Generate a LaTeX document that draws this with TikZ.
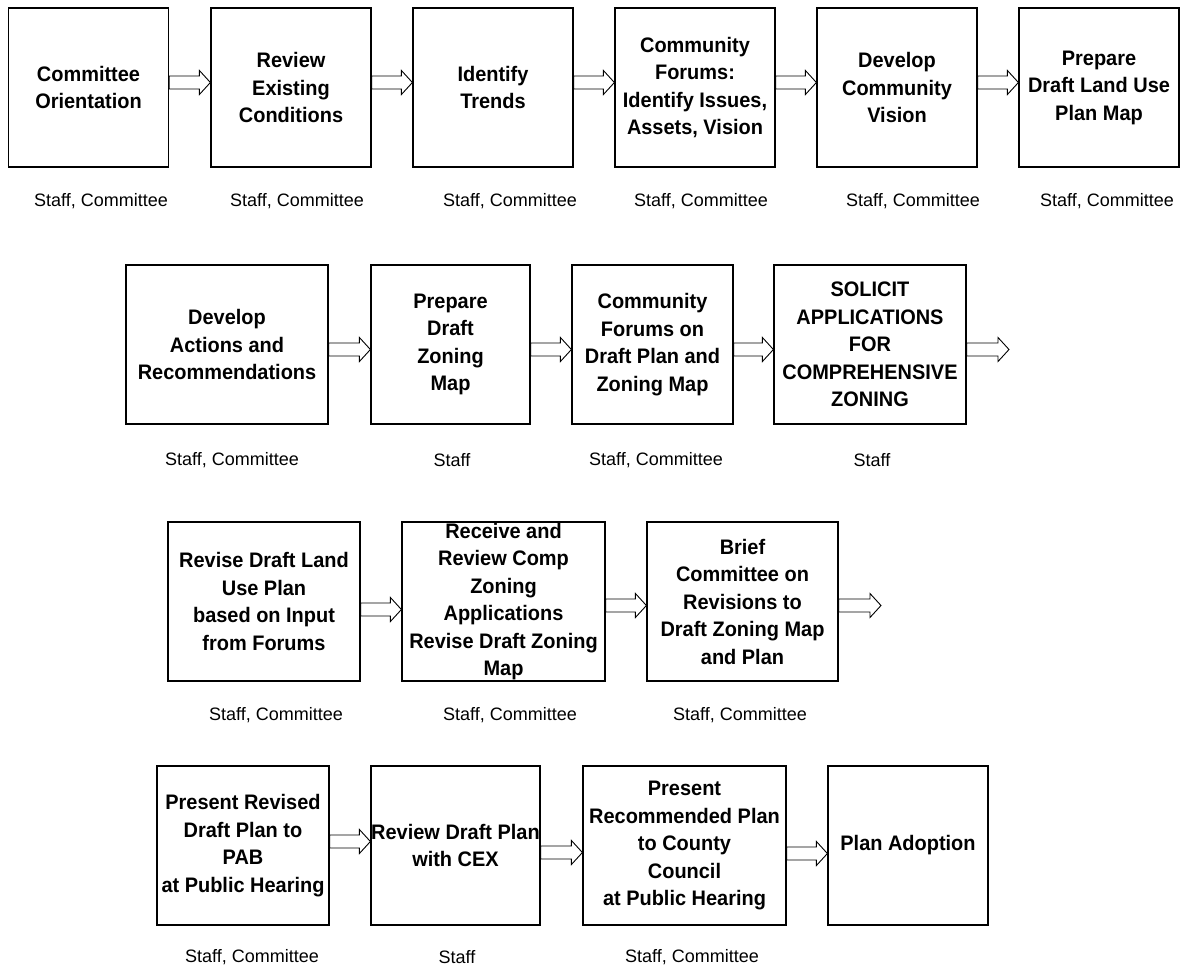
\documentclass[tikz,border=0pt]{standalone}
\usepackage{fontspec}
\setmainfont{Liberation Sans}
\newfontfamily\stagefamily[FakeStretch=0.95]{Liberation Sans}
\usepackage{tikz}
\usetikzlibrary{calc}

\newcommand{\stagefont}{\stagefamily\fontsize{21}{27.5}\bfseries\selectfont}
\newcommand{\whofont}{\fontsize{18}{22}\selectfont}

\tikzset{
  stage/.style={draw, line width=1.2pt, inner sep=0pt, align=center, font=\stagefont,
    minimum height=159pt, minimum width=#1},
  stage/.default=160pt,
  who/.style={font=\whofont, inner sep=0pt},
  hollow/.style={draw, line width=0.9pt, to path={let \p1=(\tikztostart), \p2=(\tikztotarget) in
    (\x1,\y1+6.5pt) -- (\x2-11pt,\y1+6.5pt) -- (\x2-11pt,\y1+12pt) -- (\x2,\y1)
    -- (\x2-11pt,\y1-12pt) -- (\x2-11pt,\y1-6.5pt) -- (\x1,\y1-6.5pt) -- cycle}}
}

\begin{document}
\begin{tikzpicture}[x=1pt,y=-1pt]
\useasboundingbox (0,0) rectangle (1185,970);
% row 1
\node[stage] (s1) at (88.5,87.5) {Committee\\Orientation};
\node[stage] (s2) at (291,87.5) {Review\\Existing\\Conditions};
\node[stage] (s3) at (493,87.5) {Identify\\Trends};
\node[stage] (s4) at (695,87.5) {Community\\Forums:\\Identify Issues,\\Assets, Vision};
\node[stage] (s5) at (897,87.5) {Develop\\Community\\Vision};
\node[stage] (s6) at (1099,87.5) {Prepare\\Draft Land Use\\Plan Map};
\node[who] (w1) at (101,201) {Staff, Committee};
\node[who] (w2) at (297,201) {Staff, Committee};
\node[who] (w3) at (510,201) {Staff, Committee};
\node[who] (w4) at (701,201) {Staff, Committee};
\node[who] (w5) at (913,201) {Staff, Committee};
\node[who] (w6) at (1107,201) {Staff, Committee};
\draw[hollow] ([yshift=5pt]s1.east) to (s2.west);
\draw[hollow] ([yshift=5pt]s2.east) to (s3.west);
\draw[hollow] ([yshift=5pt]s3.east) to (s4.west);
\draw[hollow] ([yshift=5pt]s4.east) to (s5.west);
\draw[hollow] ([yshift=5pt]s5.east) to (s6.west);
% row 2
\node[stage=202pt] (s7) at (227,344.5) {Develop\\Actions and\\Recommendations};
\node[stage=159pt] (s8) at (450.5,344.5) {Prepare\\Draft\\Zoning\\Map};
\node[stage=161pt] (s9) at (652.5,344.5) {Community\\Forums on\\Draft Plan and\\Zoning Map};
\node[stage=192pt] (s10) at (870,344.5) {SOLICIT\\APPLICATIONS\\FOR\\COMPREHENSIVE\\ZONING};
\coordinate (e10) at (1009,344.5);
\node[who] (w7) at (232,460) {Staff, Committee};
\node[who] (w8) at (452,460) {Staff};
\node[who] (w9) at (656,460) {Staff, Committee};
\node[who] (w10) at (872,460) {Staff};
\draw[hollow] ([yshift=-5pt]s7.east) to (s8.west);
\draw[hollow] ([yshift=-5pt]s8.east) to (s9.west);
\draw[hollow] ([yshift=-5pt]s9.east) to (s10.west);
\draw[hollow] ([yshift=-5pt]s10.east) to (e10);
% row 3
\node[stage=192pt] (s11) at (264,601.5) {Revise Draft Land\\Use Plan\\based on Input\\from Forums};
\node[stage=203pt] (s12) at (503.5,601.5) {Receive and\\Review Comp\\Zoning\\Applications\\Revise Draft Zoning\\Map};
\node[stage=191pt] (s13) at (742.5,601.5) {Brief\\Committee on\\Revisions to\\Draft Zoning Map\\and Plan};
\coordinate (e13) at (881,601.5);
\node[who] (w11) at (276,715) {Staff, Committee};
\node[who] (w12) at (510,715) {Staff, Committee};
\node[who] (w13) at (740,715) {Staff, Committee};
\draw[hollow] ([yshift=-8pt]s11.east) to (s12.west);
\draw[hollow] ([yshift=-4pt]s12.east) to (s13.west);
\draw[hollow] ([yshift=-4pt]s13.east) to (e13);
% row 4
\node[stage=172pt] (s14) at (243,845.5) {Present Revised\\Draft Plan to\\PAB\\at Public Hearing};
\node[stage=169pt] (s15) at (455.5,845.5) {\makebox[167pt]{Review Draft Plan}\\with CEX};
\node[stage=203pt] (s16) at (684.5,845.5) {Present\\Recommended Plan\\to County\\Council\\at Public Hearing};
\node[stage=160pt] (s17) at (908,845.5) {Plan Adoption};
\node[who] (w14) at (252,957) {Staff, Committee};
\node[who] (w15) at (457,957) {Staff};
\node[who] (w16) at (692,957) {Staff, Committee};
\draw[hollow] ([yshift=4pt]s14.east) to (s15.west);
\draw[hollow] ([yshift=-7pt]s15.east) to (s16.west);
\draw[hollow] ([yshift=-8pt]s16.east) to (s17.west);
\end{tikzpicture}
\end{document}
